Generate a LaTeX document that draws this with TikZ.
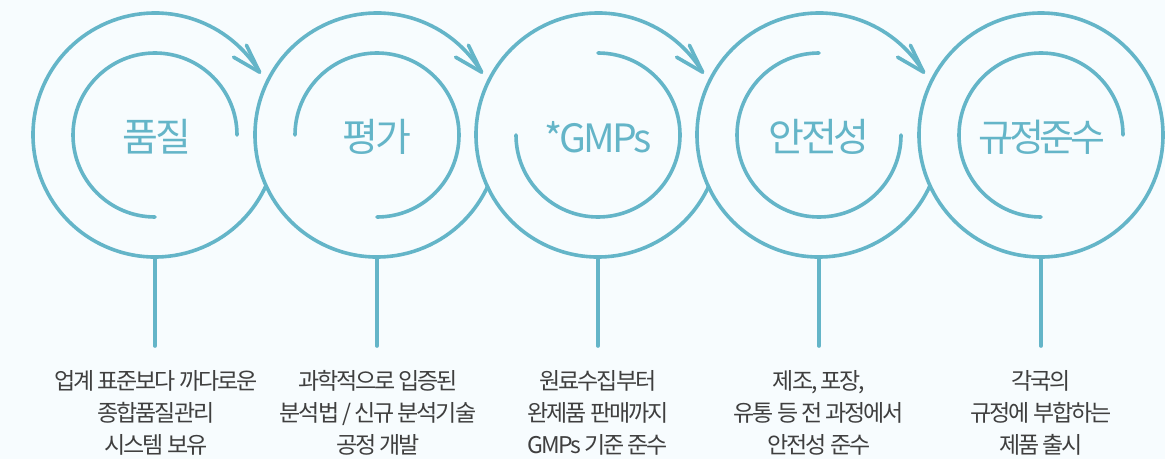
\documentclass[tikz,border=0pt]{standalone}
\usepackage{fontspec}
\usetikzlibrary{calc}
\newfontfamily\krtitle[LetterSpace=-8]{Noto Sans CJK KR}
\newfontfamily\krtitlen[LetterSpace=-12]{Noto Sans CJK KR}
\newfontfamily\krdesc[LetterSpace=-9]{Noto Sans CJK KR}
\definecolor{ringc}{HTML}{64B5C8}
\definecolor{descc}{HTML}{3F3F3F}
\definecolor{bgc}{HTML}{F7FCFE}
\begin{document}
\begin{tikzpicture}[x=1pt,y=1pt,
  ring/.style={draw=ringc, line width=3.6pt, line cap=round, line join=round},
  title/.style={text=ringc, inner sep=0pt, font=\krtitle\fontsize{39}{40}\selectfont},
  desc/.style={text=descc, inner sep=0pt, align=center, font=\krdesc\fontsize{23}{32}\selectfont}]
\useasboundingbox (0,0) rectangle (1165,459);
\fill[bgc] (0,0) rectangle (1165,459);
\foreach \i/\x in {1/155,2/377,3/598,4/819,5/1041}{
  \coordinate (c\i) at (\x,324);
}
% outer rings with arrows
\foreach \i in {1,2,3,4}{
  \draw[ring] ($(c\i)+(-24.8:122)$) arc[start angle=-24.8,end angle=-329,radius=122] coordinate (t\i);
  \draw[ring] ($(t\i)+(150:30)$) -- (t\i) -- ($(t\i)+(116:30)$);
}
\draw[ring] (c5) circle[radius=122];
% inner arcs
\foreach \i/\s/\e in {1/0/270,2/180/-90,3/90/-180,4/90/360,5/0/270}{
  \draw[ring] ($(c\i)+(\s:82)$) arc[start angle=\s,end angle=\e,radius=82];
}
% stems
\foreach \i in {1,...,5}{
  \coordinate (b\i) at ($(c\i)+(0,-122)$);
  \coordinate (e\i) at ($(c\i)+(0,-211)$);
  \draw[ring] (b\i) -- (e\i);
}
% titles
\node[title] (n1) at ($(c1)+(2,-2)$) {품질};
\node[title] (n2) at ($(c2)+(0,-2)$) {평가};
\node[title] (n3) at ($(c3)+(0,-2)$) {*GMPs};
\node[title] (n4) at ($(c4)+(0,-2)$) {안전성};
\node[title,font=\krtitlen\fontsize{38}{40}\selectfont] (n5) at ($(c5)+(1,-2)$) {규정준수};
% descriptions
\node[desc] (d1) at (156,46) {업계 표준보다 까다로운\\종합품질관리\\시스템 보유};
\node[desc] (d2) at (378,46) {과학적으로 입증된\\분석법 / 신규 분석기술\\공정 개발};
\node[desc] (d3) at (598,46) {원료수집부터\\완제품 판매까지\\GMPs 기준 준수};
\node[desc] (d4) at (819,46) {제조, 포장,\\유통 등 전 과정에서\\안전성 준수};
\node[desc] (d5) at (1041,46) {각국의\\규정에 부합하는\\제품 출시};
\end{tikzpicture}
\end{document}
